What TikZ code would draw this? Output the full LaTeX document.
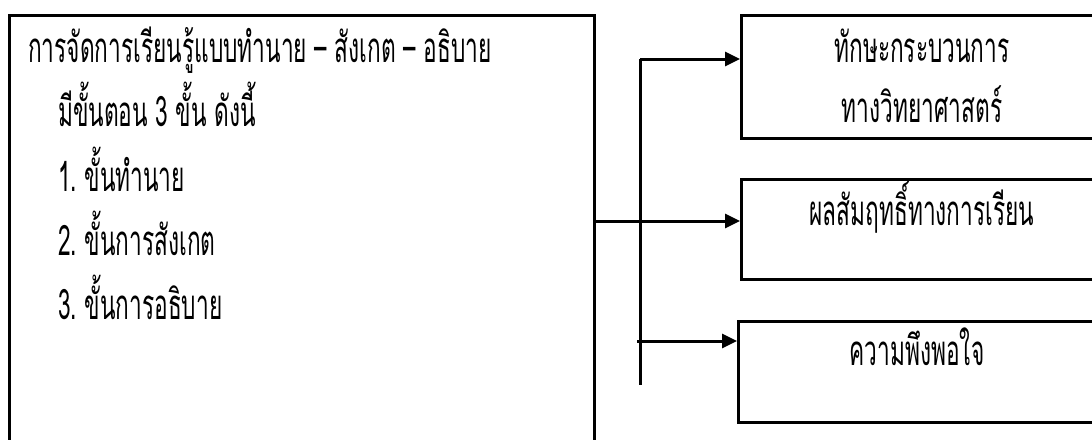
\documentclass[tikz,border=0pt]{standalone}
\usepackage{fontspec}
\newfontfamily\thai[Script=Thai,FakeStretch=0.54]{Loma}
\usetikzlibrary{arrows.meta}
\tikzset{
  frame/.style={draw=black, line width=3pt, inner sep=0pt, anchor=north west},
  txt/.style={font=\thai\fontsize{42}{46}\selectfont, inner sep=0pt},
  link/.style={line width=3pt, -{Triangle[length=15pt,width=14pt]}},
  bus/.style={line width=3pt}
}
\begin{document}
\begin{tikzpicture}[x=1pt,y=-1pt]
  \useasboundingbox (0,0) rectangle (1092,439);
  \clip (0,0) rectangle (1092,439);
  % boxes
  \node[frame, minimum width=585pt, minimum height=460pt] (main) at (8,14) {};
  \node[frame, minimum width=380pt, minimum height=123pt] (skill) at (740,14) {};
  \node[frame, minimum width=380pt, minimum height=100pt] (score) at (740,178) {};
  \node[frame, minimum width=383pt, minimum height=101pt] (satis) at (737,320) {};
  % text of the main box
  \node[txt, anchor=base west] (t1) at (28,62) {การจัดการเรียนรู้แบบทำนาย – สังเกต – อธิบาย};
  \node[txt, anchor=base west] (t2) at (58,126) {มีขั้นตอน 3 ขั้น ดังนี้};
  \node[txt, anchor=base west] (t3) at (58,191) {1.\ ขั้นทำนาย};
  \node[txt, anchor=base west] (t4) at (58,255) {2.\ ขั้นการสังเกต};
  \node[txt, anchor=base west] (t5) at (58,319) {3.\ ขั้นการอธิบาย};
  % text of the outcome boxes
  \node[txt, anchor=base] (s1) at (922,62) {ทักษะกระบวนการ};
  \node[txt, anchor=base] (s2) at (922,122) {ทางวิทยาศาสตร์};
  \node[txt, anchor=base] (r1) at (922,225) {ผลสัมฤทธิ์ทางการเรียน};
  \node[txt, anchor=base] (p1) at (917,365) {ความพึงพอใจ};
  % connectors
  \coordinate (busTop) at (640,59);
  \coordinate (busBot) at (640,385);
  \coordinate (busLow) at (637,341);
  \draw[bus] (busTop) -- (busBot);
  \draw[link] (busTop) -- (busTop -| skill.west);
  \draw[link] (main.east |- 0,221) -- (score.west |- 0,221);
  \draw[link] (busLow) -- (busLow -| satis.west);
\end{tikzpicture}
\end{document}
